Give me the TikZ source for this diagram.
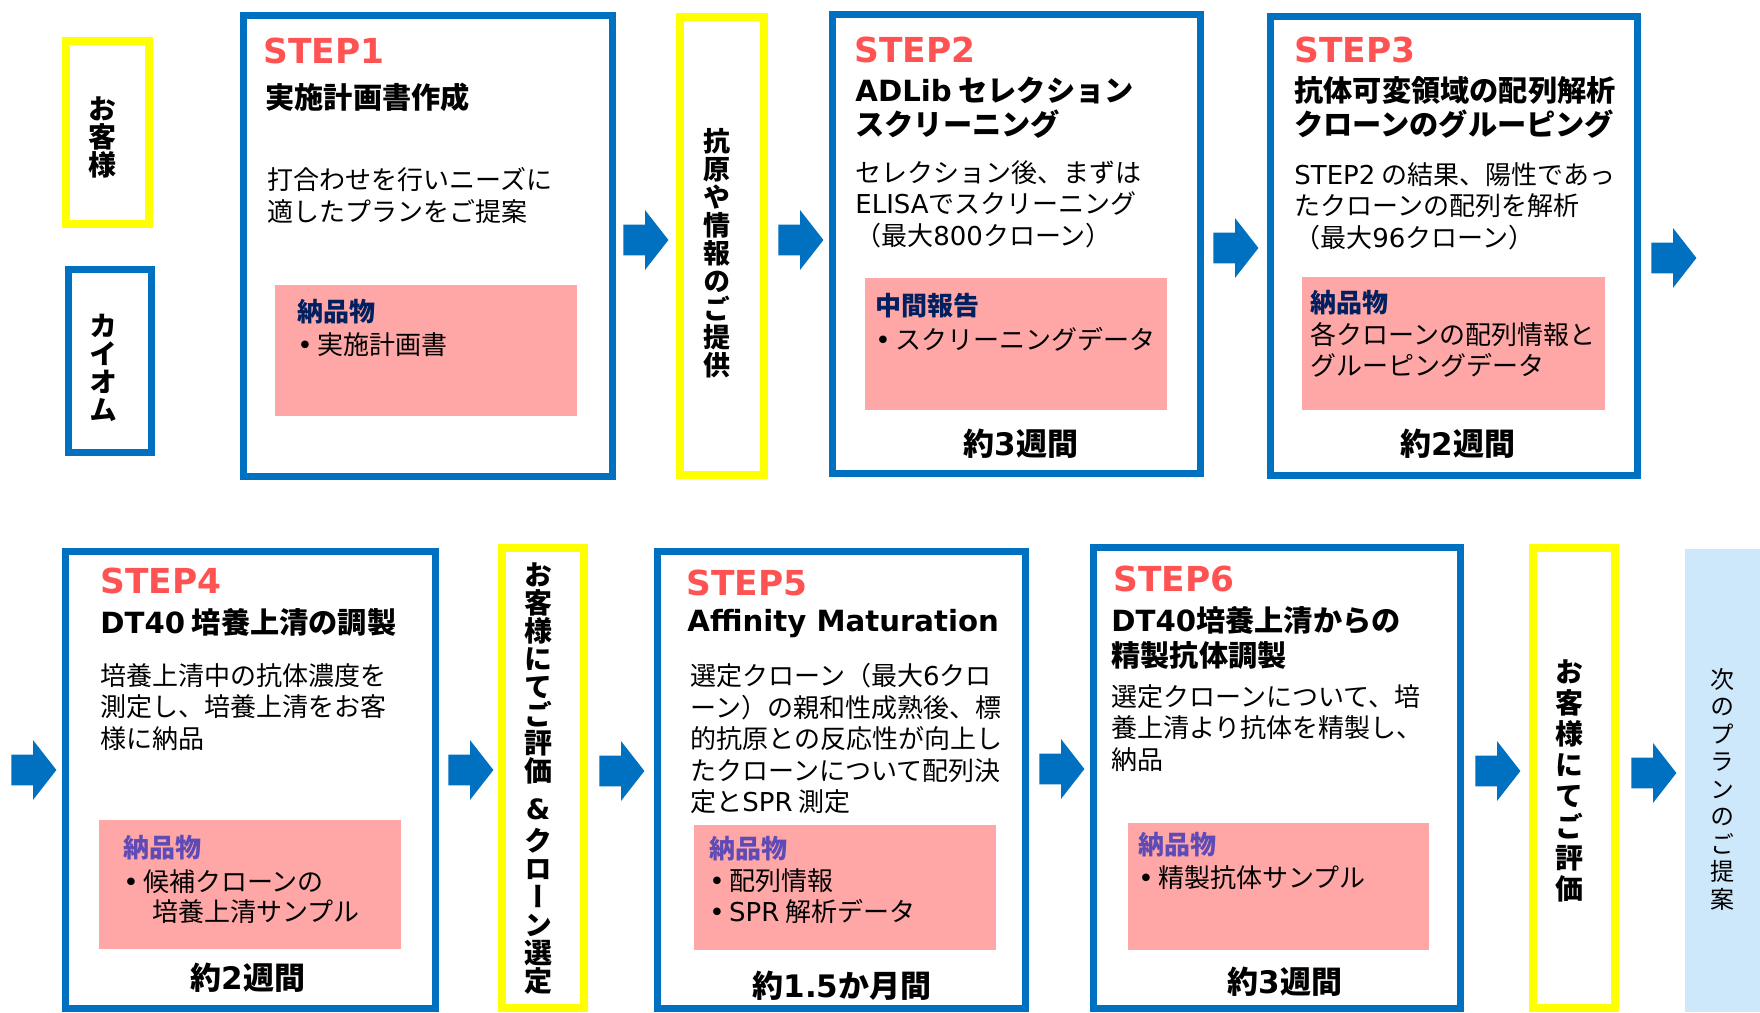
\documentclass[tikz,border=0pt]{standalone}
\usepackage{fontspec}
\setmainfont{Noto Sans CJK JP}
\newfontfamily\lat{DejaVu Sans}
\newfontfamily\vjp{Noto Sans CJK JP}[RawFeature=+vert]
\usetikzlibrary{shapes.arrows}

\definecolor{kblue}{HTML}{0070C0}
\definecolor{kyellow}{HTML}{FFFF00}
\definecolor{kpink}{HTML}{FFA6A6}
\definecolor{kred}{HTML}{FF5353}
\definecolor{knavy}{HTML}{002060}
\definecolor{kpurple}{HTML}{5F4BB6}
\definecolor{klight}{HTML}{CDE8FB}

\tikzset{
  stepbox/.style={draw=kblue, line width=3.5pt, fill=white, inner sep=0pt},
  markbox/.style={draw=kyellow, line width=4pt, fill=white, inner sep=0pt},
  pinkbox/.style={fill=kpink, inner sep=0pt},
  flow/.style={single arrow, fill=kblue, anchor=tail, inner xsep=0pt, inner ysep=7.5pt,
    minimum width=0pt, minimum height=22.5pt, single arrow head extend=7.25pt,
    single arrow tip angle=104},
  steplabel/.style={anchor=west, inner sep=0pt, text=kred, font=\lat\bfseries\fontsize{17.2}{17.2}\selectfont},
  title/.style={anchor=west, inner sep=0pt, align=left, font=\bfseries\fontsize{14.6}{17.2}\selectfont},
  body/.style={anchor=west, inner sep=0pt, align=left, font=\fontsize{13}{15.75}\selectfont},
  delivhead/.style={anchor=west, inner sep=0pt, font=\bfseries\fontsize{13}{15.75}\selectfont},
  weeks/.style={inner sep=0pt, font=\bfseries\fontsize{15.5}{15.5}\selectfont},
  vtext/.style={inner sep=0pt, align=center, font=\vjp\bfseries\fontsize{14}{14}\selectfont}
}

\begin{document}
\begin{tikzpicture}[x=0.5pt, y=-0.5pt]
    \path[use as bounding box, fill=white] (0,0) rectangle (1760,1012);

    % Draw boxes for customer and Chiome
    \node[markbox, minimum width=41.5pt, minimum height=91.5pt] (cust) at (107.5,132.5) {};
    \node[vtext] (custtxt) at (102,137) {お\\客\\様};
    \node[stepbox, minimum width=41.5pt, minimum height=91.5pt] (chiome) at (110,361) {};
    \node[vtext, font=\vjp\bfseries\fontsize{14}{14}\selectfont] (chiometxt) at (103,368) {カ\\イ\\オ\\ム};

    % Draw boxes for steps
    \node[stepbox, minimum width=184.5pt, minimum height=230.5pt] (s1) at (428,246) {};
    \node[markbox, minimum width=42pt, minimum height=229pt] (y1) at (722,246) {};
    \node[stepbox, minimum width=184pt, minimum height=229.5pt] (s2) at (1016.5,244) {};
    \node[stepbox, minimum width=183.5pt, minimum height=229.5pt] (s3) at (1454,246) {};
    \node[stepbox, minimum width=185pt, minimum height=228.5pt] (s4) at (250.5,780) {};
    \node[markbox, minimum width=41pt, minimum height=230pt] (y2) at (543,778) {};
    \node[stepbox, minimum width=184pt, minimum height=228.5pt] (s5) at (841.5,780) {};
    \node[stepbox, minimum width=183.5pt, minimum height=230.5pt] (s6) at (1277,778) {};
    \node[markbox, minimum width=41pt, minimum height=230pt] (y3) at (1574,778) {};
    \node[fill=klight, inner sep=0pt, minimum width=37.5pt, minimum height=231.5pt] (next) at (1722.5,780.5) {};

    % Draw boxes for deliverables
    \node[pinkbox, minimum width=151pt, minimum height=65.5pt] (p1) at (426,350.5) {};
    \node[pinkbox, minimum width=151pt, minimum height=66pt] (p2) at (1016,344) {};
    \node[pinkbox, minimum width=151.5pt, minimum height=66.5pt] (p3) at (1453.5,343.5) {};
    \node[pinkbox, minimum width=151pt, minimum height=64.5pt] (p4) at (250,884.5) {};
    \node[pinkbox, minimum width=151pt, minimum height=62.5pt] (p5) at (845,887.5) {};
    \node[pinkbox, minimum width=150.5pt, minimum height=63.5pt] (p6) at (1278.5,886.5) {};

    % Draw arrows between boxes
    \node[flow] (a1) at (623,240) {};
    \node[flow] (a2) at (778,240) {};
    \node[flow] (a3) at (1213,248) {};
    \node[flow] (a4) at (1651,258) {};
    \node[flow] (a5) at (11,770) {};
    \node[flow] (a6) at (448,770) {};
    \node[flow] (a7) at (599,771) {};
    \node[flow] (a8) at (1039,769) {};
    \node[flow] (a9) at (1475,771) {};
    \node[flow] (a10) at (1631,773) {};

    % STEP1
    \node[steplabel] (s1lab) at (263,50.5) {STEP1};
    \node[title] (s1tit) at (265,97.5) {実施計画書作成};
    \node[body] (s1txt) at (267,195.5) {打合わせを行いニーズに\\適したプランをご提案};
    \node[delivhead, text=knavy] (p1head) at (297,312) {納品物};
    \node[body] (p1txt) at (297,345) {{\lat•}\,実施計画書};

    % customer supplies antigen
    \node[vtext, font=\vjp\bfseries\fontsize{13.5}{14}\selectfont] (y1txt) at (717,253) {抗\\原\\や\\情\\報\\の\\ご\\提\\供};

    % STEP2
    \node[steplabel] (s2lab) at (854,49.5) {STEP2};
    \node[title] (s2tit) at (855,107.5) {{\lat ADLib} セレクション\\スクリーニング};
    \node[body] (s2txt) at (855,204) {セレクション後、まずは\\{\lat ELISA}でスクリーニング\\（最大{\lat 800}クローン）};
    \node[delivhead, text=knavy] (p2head) at (875,306) {中間報告};
    \node[body] (p2txt) at (875,339) {{\lat•}\,スクリーニングデータ};
    \node[weeks] (s2wk) at (1021,444) {約{\lat 3}週間};

    % STEP3
    \node[steplabel] (s3lab) at (1294,49.5) {STEP3};
    \node[title] (s3tit) at (1294,107.5) {抗体可変領域の配列解析\\クローンのグルーピング};
    \node[body] (s3txt) at (1294,206) {{\lat STEP2} の結果、陽性であっ\\たクローンの配列を解析\\（最大{\lat 96}クローン）};
    \node[delivhead, text=knavy] (p3head) at (1310,303) {納品物};
    \node[body] (p3txt) at (1310,350) {各クローンの配列情報と\\グルーピングデータ};
    \node[weeks] (s3wk) at (1458,444) {約{\lat 2}週間};

    % STEP4
    \node[steplabel] (s4lab) at (100,581) {STEP4};
    \node[title] (s4tit) at (100,622) {{\lat DT40} 培養上清の調製};
    \node[body] (s4txt) at (100,707) {培養上清中の抗体濃度を\\測定し、培養上清をお客\\様に納品};
    \node[delivhead, text=kpurple] (p4head) at (123,848) {納品物};
    \node[body] (p4txt) at (123,882) {{\lat•}\,候補クローンの};
    \node[body] (p4txt2) at (152,912) {培養上清サンプル};
    \node[weeks] (s4wk) at (248,978) {約{\lat 2}週間};

    % customer evaluates and selects clones
    \node[vtext] (y2txt) at (538,778.5) {お\\客\\様\\に\\て\\ご\\評\\価\\[5pt]{\lat\&}\\[2pt]ク\\ロ\\ー\\ン\\選\\定};

    % STEP5
    \node[steplabel] (s5lab) at (686,583) {STEP5};
    \node[title] (s5tit) at (687,624) {{\lat Affinity Maturation}};
    \node[body] (s5txt) at (690,738.5) {選定クローン（最大{\lat 6}クロ\\ーン）の親和性成熟後、標\\的抗原との反応性が向上し\\たクローンについて配列決\\定と{\lat SPR} 測定};
    \node[delivhead, text=kpurple] (p5head) at (709,849) {納品物};
    \node[body] (p5txt) at (709,896) {{\lat•}\,配列情報\\{\lat•}\,{\lat SPR} 解析データ};
    \node[weeks] (s5wk) at (842,986) {約{\lat 1.5}か月間};

    % STEP6
    \node[steplabel] (s6lab) at (1113,579) {STEP6};
    \node[title] (s6tit) at (1111,638) {{\lat DT40}培養上清からの\\精製抗体調製};
    \node[body] (s6txt) at (1111,728) {選定クローンについて、培\\養上清より抗体を精製し、\\納品};
    \node[delivhead, text=kpurple] (p6head) at (1138,845) {納品物};
    \node[body] (p6txt) at (1138,878) {{\lat•}\,精製抗体サンプル};
    \node[weeks] (s6wk) at (1285,982) {約{\lat 3}週間};

    % customer evaluates, then next plan
    \node[vtext, font=\vjp\bfseries\fontsize{14}{15.5}\selectfont] (y3txt) at (1569,781) {お\\客\\様\\に\\て\\ご\\評\\価};
    \node[vtext, font=\vjp\fontsize{12}{13.75}\selectfont] (nexttxt) at (1722,789) {次\\の\\プ\\ラ\\ン\\の\\ご\\提\\案};
\end{tikzpicture}
\end{document}
